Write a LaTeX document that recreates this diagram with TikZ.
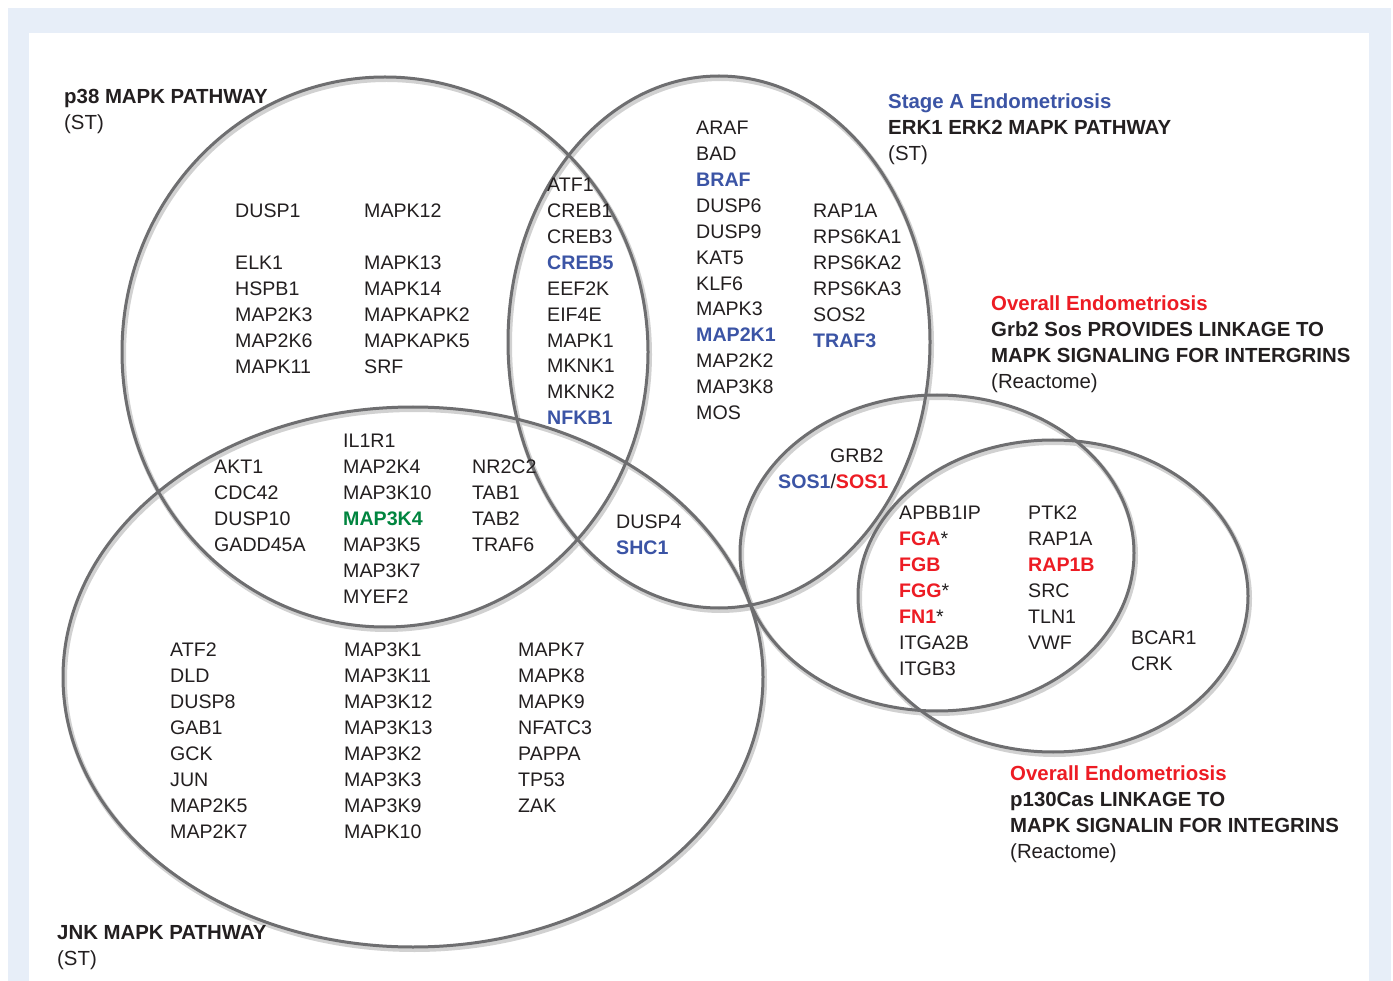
\documentclass[tikz,border=0pt]{standalone}
\usepackage{fontspec}
\setmainfont{Liberation Sans}
\usepackage{tikz}
\usetikzlibrary{positioning}
\definecolor{stageblue}{RGB}{59,84,165}
\definecolor{overallred}{RGB}{237,28,36}
\definecolor{kinasegreen}{RGB}{0,133,63}
\definecolor{ringgray}{RGB}{110,110,112}
\definecolor{framebg}{RGB}{231,238,248}
\definecolor{inkblack}{RGB}{35,31,32}
\newcommand{\bluegene}[1]{\textbf{\color{stageblue}#1}}
\newcommand{\redgene}[1]{\textbf{\color{overallred}#1}}
\newcommand{\greengene}[1]{\textbf{\color{kinasegreen}#1}}
\tikzset{
  genes/.style  = {anchor=north west, align=left, inner sep=0pt, text=inkblack,
                   font={\fontsize{19.6}{25.9}\selectfont}},
  heading/.style = {genes, font={\fontsize{20.4}{25.9}\selectfont}},
  ring/.style   = {draw=ringgray, line width=3pt},
  ringshade/.style = {draw=black!18, line width=5pt, shift={(1.5,2.5)}}
}
\begin{document}
\begin{tikzpicture}[x=1pt, y=-1pt]
\useasboundingbox (0,0) rectangle (1393,981);
% frame
\fill[framebg] (8,8) rectangle (1391,981);
\fill[white] (29,33) rectangle (1369,981);

% the five pathway ellipses: p38, ERK, JNK, Grb2, p130Cas
\foreach \cx/\cy/\rx/\ry in {385/352/263/275, 719/342/211/266, 413/677/350/270,
                              937/553/197/158, 1053/596/195/156}
  \draw[ringshade] (\cx,\cy) ellipse [x radius=\rx, y radius=\ry];
\foreach \cx/\cy/\rx/\ry in {385/352/263/275, 719/342/211/266, 413/677/350/270,
                              937/553/197/158, 1053/596/195/156}
  \draw[ring] (\cx,\cy) ellipse [x radius=\rx, y radius=\ry];

% headings
\node[heading] (p38title) at (64,89) {\textbf{p38 MAPK PATHWAY}\\(ST)};
\node[heading] (erktitle) at (888,94) {\bluegene{Stage A Endometriosis}\\
  \textbf{ERK1 ERK2 MAPK PATHWAY}\\(ST)};
\node[heading] (grbtitle) at (991,296) {\redgene{Overall Endometriosis}\\
  \textbf{Grb2 Sos PROVIDES LINKAGE TO}\\\textbf{MAPK SIGNALING FOR INTERGRINS}\\(Reactome)};
\node[heading] (castitle) at (1010,766) {\redgene{Overall Endometriosis}\\
  \textbf{p130Cas LINKAGE TO}\\\textbf{MAPK SIGNALIN FOR INTEGRINS}\\(Reactome)};
\node[heading] (jnktitle) at (57,925) {\textbf{JNK MAPK PATHWAY}\\(ST)};

% p38 only
\node[genes] (p38a) at (235,204) {DUSP1\\[25.9pt]ELK1\\HSPB1\\MAP2K3\\MAP2K6\\MAPK11};
\node[genes] (p38b) at (364,204) {MAPK12\\[25.9pt]MAPK13\\MAPK14\\MAPKAPK2\\MAPKAPK5\\SRF};

% p38 and ERK
\node[genes] (p38erk) at (547,178) {ATF1\\CREB1\\CREB3\\\bluegene{CREB5}\\EEF2K\\EIF4E\\
  MAPK1\\MKNK1\\MKNK2\\\bluegene{NFKB1}};

% ERK only
\node[genes] (erka) at (696,121) {ARAF\\BAD\\\bluegene{BRAF}\\DUSP6\\DUSP9\\KAT5\\KLF6\\
  MAPK3\\\bluegene{MAP2K1}\\MAP2K2\\MAP3K8\\MOS};
\node[genes] (erkb) at (813,204) {RAP1A\\RPS6KA1\\RPS6KA2\\RPS6KA3\\SOS2\\\bluegene{TRAF3}};

% p38 and JNK
\node[genes] (p38jnka) at (214,460) {AKT1\\CDC42\\DUSP10\\GADD45A};
\node[genes] (p38jnkb) at (343,434) {IL1R1\\MAP2K4\\MAP3K10\\\greengene{MAP3K4}\\MAP3K5\\
  MAP3K7\\MYEF2};
\node[genes] (p38jnkc) at (472,460) {NR2C2\\TAB1\\TAB2\\TRAF6};

% ERK and JNK
\node[genes] (erkjnk) at (616,515) {DUSP4\\\bluegene{SHC1}};

% JNK only
\node[genes] (jnka) at (170,643) {ATF2\\DLD\\DUSP8\\GAB1\\GCK\\JUN\\MAP2K5\\MAP2K7};
\node[genes] (jnkb) at (344,643) {MAP3K1\\MAP3K11\\MAP3K12\\MAP3K13\\MAP3K2\\MAP3K3\\
  MAP3K9\\MAPK10};
\node[genes] (jnkc) at (518,643) {MAPK7\\MAPK8\\MAPK9\\NFATC3\\PAPPA\\TP53\\ZAK};

% Grb2 Sos
\node[genes] (grb) at (830,449) {GRB2};
\node[genes] (sos) at (778,474) {\bluegene{SOS1}/\redgene{SOS1}};

% Grb2 Sos and p130Cas
\node[genes] (grbcasa) at (899,506) {APBB1IP\\\redgene{FGA}*\\\redgene{FGB}\\
  \redgene{FGG}*\\\redgene{FN1}*\\ITGA2B\\ITGB3};
\node[genes] (grbcasb) at (1028,506) {PTK2\\RAP1A\\\redgene{RAP1B}\\SRC\\TLN1\\VWF};

% p130Cas only
\node[genes] (cas) at (1131,631) {BCAR1\\CRK};
\end{tikzpicture}
\end{document}
